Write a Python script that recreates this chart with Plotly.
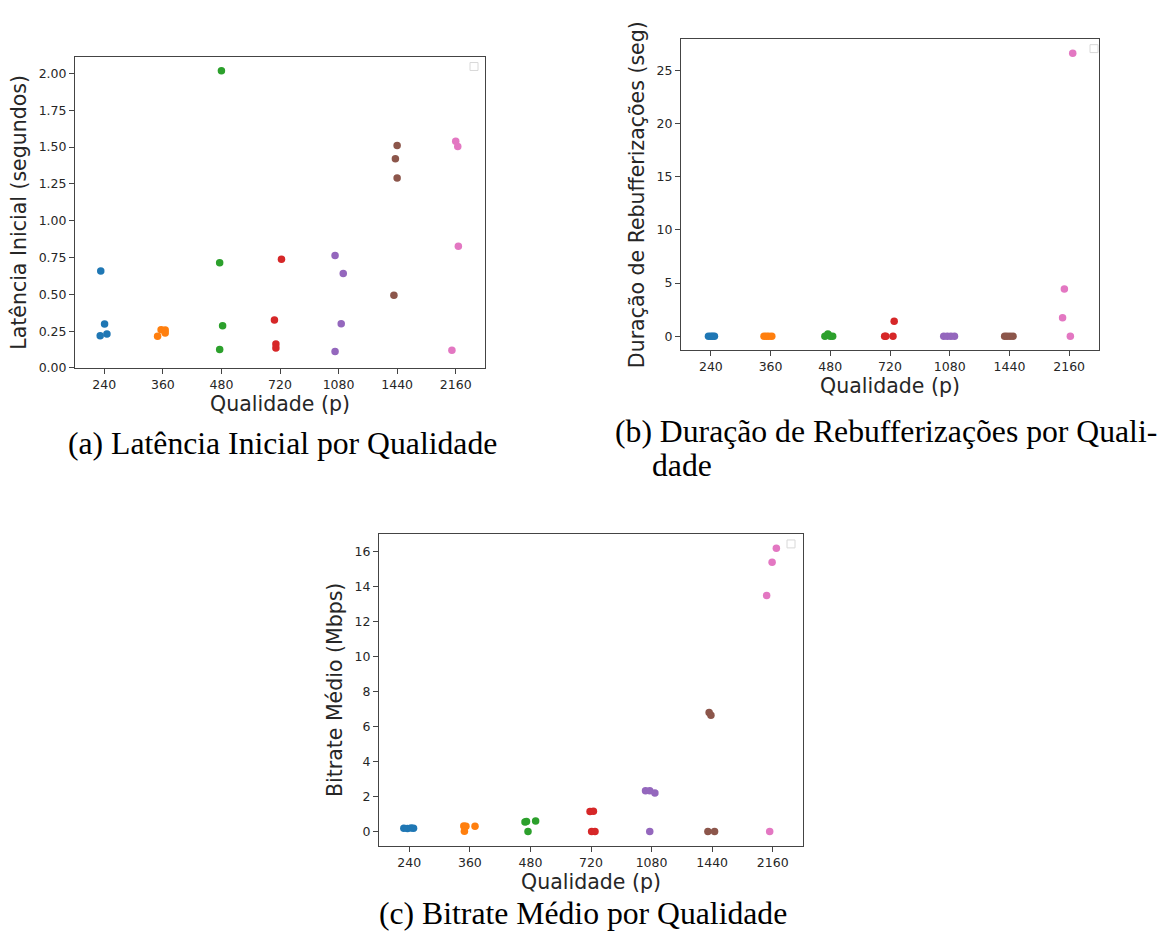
import plotly.graph_objects as go

# ---------------- data ----------------
qualidades = ["240", "360", "480", "720", "1080", "1440", "2160"]
cores = ["#1f77b4", "#ff7f0e", "#2ca02c", "#d62728", "#9467bd", "#8c564b", "#e377c2"]

# (a) Latência inicial (segundos)
latencia_valores = [
    [0.658, 0.299, 0.218, 0.231],
    [0.215, 0.260, 0.258, 0.238],
    [2.018, 0.714, 0.287, 0.126],
    [0.738, 0.325, 0.162, 0.135],
    [0.763, 0.642, 0.301, 0.112],
    [1.511, 1.421, 1.291, 0.494],
    [1.540, 1.504, 0.826, 0.121],
]
latencia_jitter = [
    [-0.06, 0.005, -0.07, 0.045],
    [-0.09, -0.03, 0.04, 0.04],
    [0.0, -0.03, 0.02, -0.03],
    [0.025, -0.095, -0.07, -0.07],
    [-0.06, 0.08, 0.045, -0.06],
    [0.0, -0.03, 0.0, -0.055],
    [0.0, 0.035, 0.045, -0.065],
]

# (b) Duração de rebufferizações (seg)
rebuffer_valores = [
    [0, 0, 0, 0],
    [0, 0, 0, 0],
    [0, 0.2, 0, 0],
    [0, 0, 0, 1.4],
    [0, 0, 0, 0],
    [0, 0, 0, 0],
    [26.6, 4.43, 1.73, 0],
]
rebuffer_jitter = [
    [-0.04, 0.0, 0.03, 0.06],
    [-0.11, -0.07, -0.03, 0.02],
    [-0.09, -0.04, 0.0, 0.04],
    [-0.09, -0.07, 0.05, 0.07],
    [-0.1, -0.04, 0.02, 0.08],
    [-0.08, -0.04, 0.01, 0.06],
    [0.06, -0.08, -0.11, 0.02],
]

# (c) Bitrate médio (Mbps)
bitrate_valores = [
    [0.19, 0.17, 0.20, 0.18],
    [0.32, 0.30, 0.30, 0.02],
    [0.55, 0.57, 0.0, 0.60],
    [1.15, 1.16, 0.0, 0.0],
    [2.33, 2.33, 2.20, 0.0],
    [6.80, 6.65, 0.0, 0.0],
    [16.2, 15.4, 13.5, 0.0],
]
bitrate_jitter = [
    [-0.09, -0.03, 0.03, 0.07],
    [-0.10, -0.065, 0.085, -0.09],
    [-0.09, -0.065, -0.04, 0.086],
    [-0.016, 0.04, 0.01, 0.066],
    [-0.10, -0.03, 0.055, -0.03],
    [-0.05, -0.02, -0.07, 0.04],
    [0.06, -0.01, -0.10, -0.05],
]

titulos_y = ["Latência Inicial (segundos)", "Duração de Rebufferizações (seg)", "Bitrate Médio (Mbps)"]
titulo_x = "Qualidade (p)"
legendas = [
    "(a) Latência Inicial por Qualidade",
    "(b) Duração de Rebufferizações por Quali-",
    "dade",
    "(c) Bitrate Médio por Qualidade",
]

# ---------------- figure ----------------
W, H = 1159, 942
fig = go.Figure()

paineis = [
    (latencia_valores, latencia_jitter, "x", "y"),
    (rebuffer_valores, rebuffer_jitter, "x2", "y2"),
    (bitrate_valores, bitrate_jitter, "x3", "y3"),
]
for valores, jitter, xa, ya in paineis:
    for i, (vals, jit) in enumerate(zip(valores, jitter)):
        fig.add_trace(go.Scatter(
            x=[i + j for j in jit], y=vals, mode="markers",
            marker=dict(color=cores[i], size=7.5, line=dict(width=0)),
            xaxis=xa, yaxis=ya, showlegend=False, hoverinfo="skip",
        ))


def px_x(a, b):
    return [a / W, b / W]


def px_y(top, bottom):
    return [1 - bottom / H, 1 - top / H]


tickfont = dict(family="DejaVu Sans", size=12.5, color="#262626")
titlefont = dict(family="DejaVu Sans", size=20.5, color="#262626")
eixo_comum = dict(showgrid=False, zeroline=False, showline=True, mirror=True,
                  linecolor="#444", linewidth=1, ticks="outside", ticklen=5,
                  tickcolor="#444", tickfont=tickfont)

dominios = [
    (px_x(75, 485), px_y(57, 371), [-0.002, 2.115], 0.25, ".2f"),
    (px_x(681, 1099), px_y(39.3, 353), [-1.33, 27.93], 5, "d"),
    (px_x(379, 803), px_y(538, 852), [-0.81, 17.01], 2, "d"),
]
layout = dict(width=W, height=H, margin=dict(l=0, r=0, t=0, b=0),
              paper_bgcolor="white", plot_bgcolor="white", showlegend=False)
for k, (dx, dy, yr, dt, fmt) in enumerate(dominios):
    sx = "" if k == 0 else str(k + 1)
    layout["xaxis" + sx] = dict(eixo_comum, domain=dx, anchor="y" + sx, range=[-0.5, 6.5],
                                tickmode="array", tickvals=list(range(len(qualidades))),
                                ticktext=qualidades,
                                title=dict(text=titulo_x, font=titlefont, standoff=4))
    layout["yaxis" + sx] = dict(eixo_comum, domain=dy, anchor="x" + sx, range=yr,
                                dtick=dt, tick0=0, tickformat=fmt,
                                title=dict(text=titulos_y[k], font=titlefont, standoff=6))
fig.update_layout(**layout)

# empty legend boxes (top-right inside each axes)
caixas = [(470, 63), (1090, 45), (787, 544)]
for cx, cy in caixas:
    fig.add_shape(type="rect", xref="paper", yref="paper",
                  x0=cx / W, x1=(cx + 8) / W, y0=1 - (cy + 8) / H, y1=1 - cy / H,
                  line=dict(color="#d8d8d8", width=1), fillcolor="white")

capfont = dict(family="Liberation Serif", size=31.7, color="black")
fig.add_annotation(text=legendas[0], x=66 / W, y=1 - 447 / H, xref="paper", yref="paper",
                   xanchor="left", yanchor="middle", showarrow=False, font=capfont)
fig.add_annotation(text=legendas[1], x=613 / W, y=1 - 435 / H, xref="paper", yref="paper",
                   xanchor="left", yanchor="middle", showarrow=False, font=capfont)
fig.add_annotation(text=legendas[2], x=650 / W, y=1 - 469 / H, xref="paper", yref="paper",
                   xanchor="left", yanchor="middle", showarrow=False, font=capfont)
fig.add_annotation(text=legendas[3], x=377 / W, y=1 - 920 / H, xref="paper", yref="paper",
                   xanchor="left", yanchor="middle", showarrow=False, font=capfont)

fig.write_html("out.html")
